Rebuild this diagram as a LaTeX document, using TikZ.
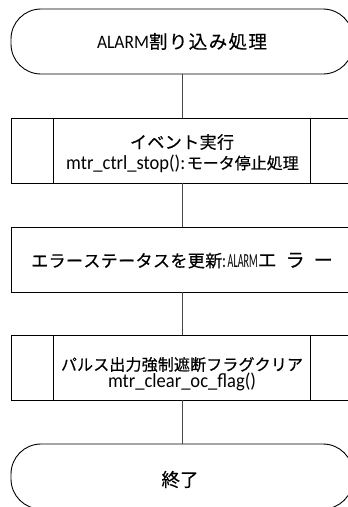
\documentclass[tikz,border=0pt]{standalone}
\usepackage{graphicx}
\usepackage{fontspec}
\setmainfont{Carlito}
\newfontfamily\jp[FakeBold=0.4]{Noto Sans CJK JP}
\usetikzlibrary{calc}
\makeatletter
\newcommand\jsp[2]{\makebox[#1pt][s]{\jp\@tfor\jx:=#2\do{\jx\hfil}\unskip}}
\makeatother
\newcommand\sqz[2]{\resizebox{#1pt}{\height}{#2}}
\tikzset{
  shapeline/.style={draw=black, line width=0.9pt},
  terminal/.style={shapeline, rounded corners=30pt, minimum width=342pt, minimum height=65pt, inner sep=0pt},
  procbox/.style={shapeline, minimum width=342pt, minimum height=65pt, inner sep=0pt},
  conn/.style={draw=black!72, line width=0.9pt},
  txt/.style={anchor=base, inner sep=0pt, text=black},
  bar/.style={draw=black, line width=0.9pt}
}
\begin{document}
\begin{tikzpicture}[x=1pt,y=-1pt]
\useasboundingbox (0,0) rectangle (348,507);
\clip (0,0) rectangle (348,507);
% shapes
\node[terminal] (start) at (182,41.5) {};
\node[procbox] (p1) at (182,150.5) {};
\node[procbox] (p2) at (182,259.5) {};
\node[procbox] (p3) at (182,367.5) {};
\node[terminal] (stop) at (182,476.5) {};
% side bars of predefined processes
\foreach \b in {p1,p3}{
  \draw[bar] ($(\b.north west)+(43,0)$) -- ($(\b.south west)+(43,0)$);
  \draw[bar] ($(\b.north east)+(-43,0)$) -- ($(\b.south east)+(-43,0)$);
}
% connectors
\draw[conn] (start.south) -- (p1.north);
\draw[conn] (p1.south) -- (p2.north);
\draw[conn] (p2.south) -- (p3.north);
\draw[conn] (p3.south) -- (stop.north);
% texts
\node[txt] (t0) at (182,48.5) {\fontsize{19}{20}\selectfont\sqz{52}{ALARM}\fontsize{18.5}{20}\selectfont\jsp{118}{割り込み処理}};
\node[txt] (t1a) at (182,148.5) {\fontsize{17}{20}\selectfont\jsp{104}{イベント実行}};
\node[txt] (t1b) at (182,169) {\fontsize{20}{20}\selectfont\sqz{119}{mtr\_ctrl\_stop():}\hspace{1.5pt}\fontsize{16}{20}\selectfont\jsp{111}{モータ停止処理}};
\node[txt] (t2) at (182,267) {\fontsize{17}{20}\selectfont\jsp{191}{エラーステータスを更新}\fontsize{20}{20}\selectfont\sqz{4}{:}\hspace{1.5pt}\sqz{30}{ALARM}\fontsize{19}{20}\selectfont\jsp{75}{エラー}};
\node[txt] (t3a) at (182,370.5) {\fontsize{16}{20}\selectfont\jsp{242}{パルス出力強制遮断フラグクリア}};
\node[txt] (t3b) at (182,387.5) {\fontsize{20}{20}\selectfont\sqz{148}{mtr\_clear\_oc\_flag()}};
\node[txt] (t4) at (180,486.5) {\fontsize{18.5}{20}\selectfont\jp 終了};
\end{tikzpicture}
\end{document}
